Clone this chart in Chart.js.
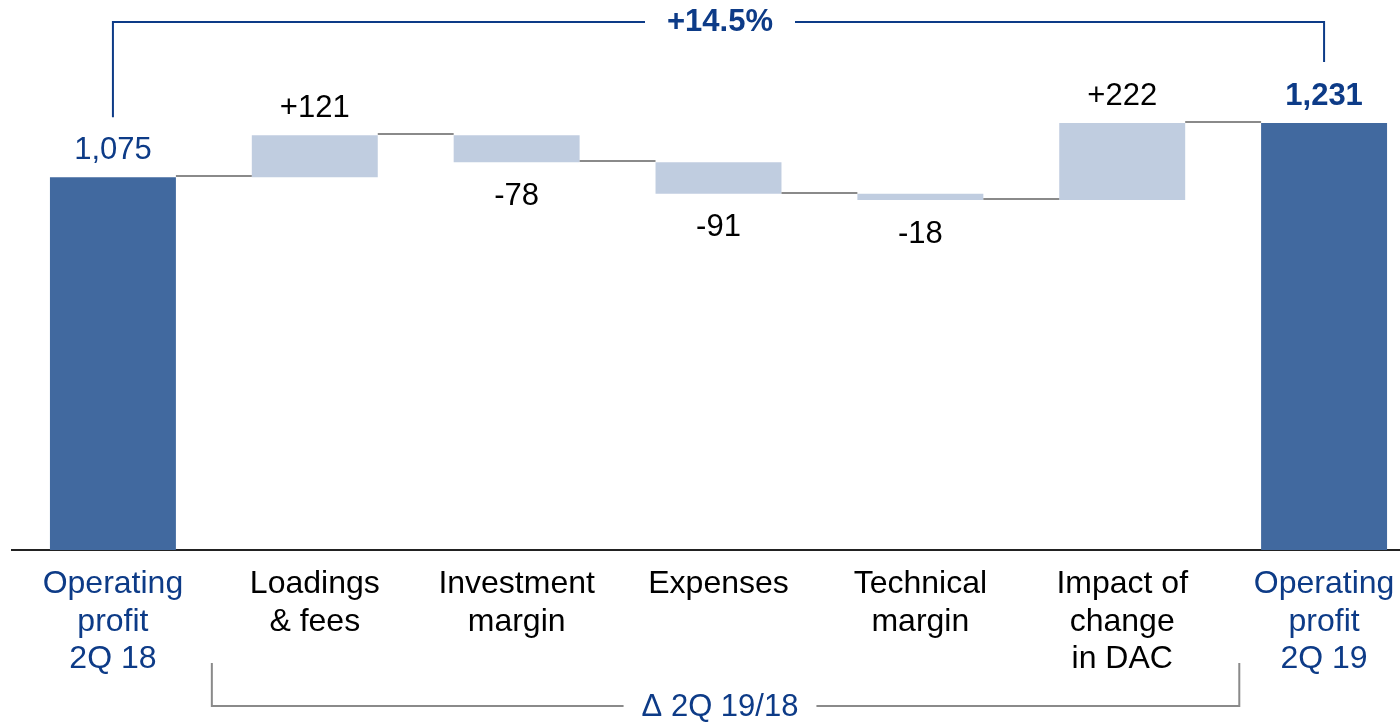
<!DOCTYPE html>
<html>
<head>
<meta charset="utf-8">
<script src="https://cdn.jsdelivr.net/npm/chart.js@4"></script>
<style>
  html, body { margin: 0; padding: 0; background: #fff; overflow: hidden; }
  #wrap { width: 1425px; height: 724px; position: relative; }
</style>
</head>
<body>
<div id="wrap"><canvas id="waterfall"></canvas></div>
<script>
// Waterfall: operating profit 2Q 18 -> 2Q 19

const categories = [
  ["Operating", "profit", "2Q 18"],
  ["Loadings", "& fees"],
  ["Investment", "margin"],
  ["Expenses"],
  ["Technical", "margin"],
  ["Impact of", "change", "in DAC"],
  ["Operating", "profit", "2Q 19"]
];
const startValue = 1075;
const deltas = [121, -78, -91, -18, 222];
const endValue = 1231;
const valueLabels = ["1,075", "+121", "-78", "-91", "-18", "+222", "1,231"];
const growthLabel = "+14.5%";
const deltaLabel = "\u0394 2Q 19/18";

const BLUE_TEXT = "#0d3b87";
const DARK_BAR = "#41699f";
const LIGHT_BAR = "#c0cde0";
const FONT = "'Liberation Sans', Arial, sans-serif";

// build floating bars from the steps
const floating = [[0, startValue]];
let running = startValue;
deltas.forEach(d => {
  floating.push([Math.min(running, running + d), Math.max(running, running + d)]);
  running += d;
});
floating.push([0, endValue]);
const levels = [startValue];
running = startValue;
deltas.forEach(d => { running += d; levels.push(running); });

const isTotal = i => i === 0 || i === categories.length - 1;

// connectors, value labels and the two brackets
const decorPlugin = {
  id: "decor",
  afterDatasetsDraw(chart) {
    const ctx = chart.ctx;
    const x = chart.scales.x;
    const y = chart.scales.y;
    const meta = chart.getDatasetMeta(0);

    ctx.save();
    // connector lines between bars
    ctx.strokeStyle = "#8a8a8a";
    ctx.lineWidth = 2;
    for (let i = 0; i < levels.length; i++) {
      const a = meta.data[i], b = meta.data[i + 1];
      const py = Math.round(y.getPixelForValue(levels[i])) - 1;
      ctx.beginPath();
      ctx.moveTo(a.x + a.width / 2, py);
      ctx.lineTo(b.x - b.width / 2, py);
      ctx.stroke();
    }

    // value labels
    ctx.textAlign = "center";
    ctx.textBaseline = "middle";
    meta.data.forEach((bar, i) => {
      const negative = i > 0 && i < categories.length - 1 && deltas[i - 1] < 0;
      const lo = floating[i][0], hi = floating[i][1];
      const py = negative ? y.getPixelForValue(lo) + 34 : y.getPixelForValue(hi) - 27;
      ctx.fillStyle = isTotal(i) ? BLUE_TEXT : "#000";
      ctx.font = (i === categories.length - 1 ? "bold " : "") + "31px " + FONT;
      ctx.fillText(valueLabels[i], bar.x, py);
    });

    // top bracket (+14.5%)
    const x0 = meta.data[0].x, x6 = meta.data[categories.length - 1].x;
    const topY = 22;
    const midX = 720;
    ctx.font = "bold 31px " + FONT;
    const gw = ctx.measureText(growthLabel).width / 2 + 22;
    ctx.strokeStyle = BLUE_TEXT;
    ctx.lineWidth = 2;
    ctx.beginPath();
    ctx.moveTo(x0, y.getPixelForValue(floating[0][1]) - 60);
    ctx.lineTo(x0, topY);
    ctx.lineTo(midX - gw, topY);
    ctx.moveTo(midX + gw, topY);
    ctx.lineTo(x6, topY);
    ctx.lineTo(x6, y.getPixelForValue(endValue) - 61);
    ctx.stroke();
    ctx.fillStyle = BLUE_TEXT;
    ctx.fillText(growthLabel, midX, topY);

    // bottom bracket (delta)
    const bx0 = x.getPixelForValue(0.49);
    const bx1 = x.getPixelForValue(5.58);
    const botY = 706;
    ctx.font = "31px " + FONT;
    const dw = ctx.measureText(deltaLabel).width / 2 + 18;
    ctx.strokeStyle = "#8a8a8a";
    ctx.beginPath();
    ctx.moveTo(bx0, 663);
    ctx.lineTo(bx0, botY);
    ctx.lineTo(midX - dw, botY);
    ctx.moveTo(midX + dw, botY);
    ctx.lineTo(bx1, botY);
    ctx.lineTo(bx1, 663);
    ctx.stroke();
    ctx.fillStyle = BLUE_TEXT;
    ctx.fillText(deltaLabel, midX, botY + 1);
    ctx.restore();
  }
};

new Chart(document.getElementById("waterfall").getContext("2d"), {
  type: "bar",
  data: {
    labels: categories,
    datasets: [{
      data: floating,
      backgroundColor: categories.map((c, i) => isTotal(i) ? DARK_BAR : LIGHT_BAR),
      borderWidth: 0,
      borderSkipped: false,
      barPercentage: 0.624,
      categoryPercentage: 1
    }]
  },
  options: {
    responsive: true,
    maintainAspectRatio: false,
    animation: false,
    layout: { padding: { left: 12, top: 0, right: 0, bottom: 0 } },
    plugins: { legend: { display: false }, tooltip: { enabled: false } },
    scales: {
      x: {
        grid: { display: false, drawTicks: false },
        border: { display: true, color: "#222", width: 2 },
        afterFit(scale) { scale.height = 174; },
        ticks: {
          padding: 16,
          maxRotation: 0,
          autoSkip: false,
          color: c => isTotal(c.index) ? BLUE_TEXT : "#000",
          font: { family: FONT, size: 32, lineHeight: 1.16 }
        }
      },
      y: {
        display: false,
        min: 0,
        max: 1586
      }
    }
  },
  plugins: [decorPlugin]
});
</script>
</body>
</html>
